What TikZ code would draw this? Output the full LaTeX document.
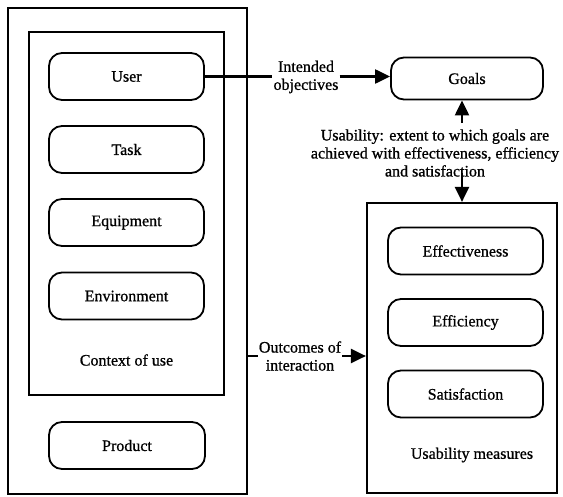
\documentclass[tikz,border=0pt]{standalone}
\usepackage{fontspec}
\setmainfont{Liberation Serif}[FakeBold=0.9]
\usetikzlibrary{arrows.meta}
\begin{document}
\begin{tikzpicture}[x=1pt,y=-1pt,
  font=\fontsize{16}{18}\selectfont,
  frame/.style={draw, line width=2.2pt, inner sep=0pt},
  pill/.style={draw, line width=1.8pt, rounded corners=13pt, minimum width=155pt, minimum height=47pt, inner sep=0pt},
  lbl/.style={align=center, inner sep=1pt},
  arr/.style={line width=2.2pt, -{Triangle[length=15pt,width=14pt]}},
  conn/.style={line width=2.2pt}]
\useasboundingbox (0,0) rectangle (563,496);
% frames
\node[frame, minimum width=239pt, minimum height=486pt] (outer) at (127.5,251) {};
\node[frame, minimum width=195pt, minimum height=363pt] (inner) at (126.5,213.5) {};
\node[frame, minimum width=190pt, minimum height=290pt] (meas) at (462,348) {};
% left pills
\node[pill] (user) at (126.5,76.5) {User};
\node[pill] (task) at (126.5,149.5) {Task};
\node[pill] (equip) at (126.5,222.5) {Equipment};
\node[pill] (env) at (126.5,296) {Environment};
\node[lbl] (ctx) at (126.5,360) {Context of use};
\node[pill, minimum width=156pt] (prod) at (127,445.5) {Product};
% right pills
\node[pill, minimum width=152pt, minimum height=42pt] (goals) at (467,78.5) {Goals};
\node[pill] (eff) at (465.5,251) {Effectiveness};
\node[pill] (effi) at (465.5,322.5) {Efficiency};
\node[pill] (sat) at (465.5,394) {Satisfaction};
\node[lbl] (um) at (472,455) {Usability measures};
% labels
\node[lbl] (intended) at (306,77) {Intended\\objectives};
\node[lbl] (outcomes) at (300,356) {Outcomes of\\interaction};
\node[lbl, inner sep=0pt] (usab) at (435,153) {Usability: extent to which goals are\\achieved with effectiveness, efficiency\\and satisfaction};
\coordinate (upstart) at (462,123);
\coordinate (downstart) at (462,173);
% connectors
\draw[conn] (user.east) -- (intended.west |- user.east);
\draw[arr] (intended.east |- user.east) -- (goals.west |- user.east);
\draw[conn] (outer.east |- outcomes) -- (outcomes.west);
\draw[arr] (outcomes.east) -- (meas.west |- outcomes);
\draw[arr] (upstart) -- (upstart |- goals.south);
\draw[arr] (downstart) -- (downstart |- meas.north);
\end{tikzpicture}
\end{document}
